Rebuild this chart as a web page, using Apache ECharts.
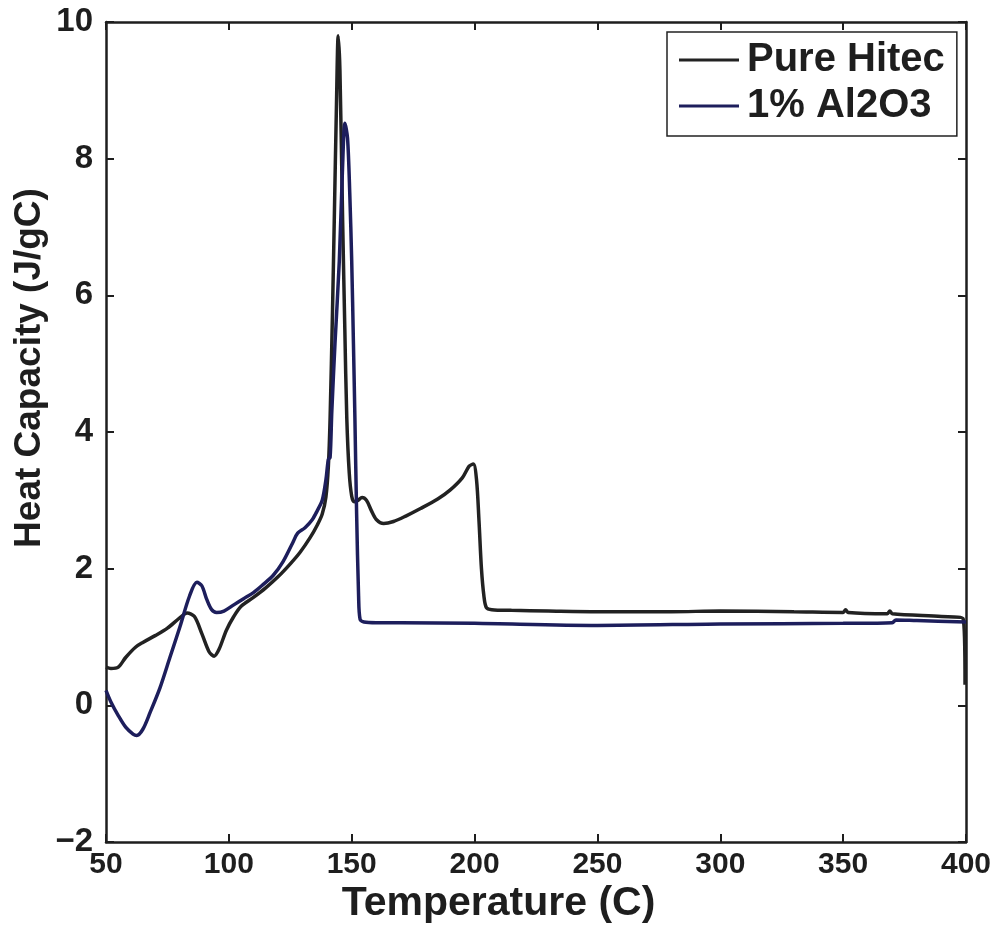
<!DOCTYPE html>
<html>
<head>
<meta charset="utf-8">
<script src="https://cdn.jsdelivr.net/npm/echarts@6/dist/echarts.min.js"></script>
<style>
html,body{margin:0;padding:0;background:#fff;}
#chart{width:997px;height:925px;}
</style>
</head>
<body>
<div id="chart"></div>
<script>
// Series names
var seriesNames = ['Pure Hitec', '1% Al2O3'];

// Pure Hitec: temperature (C) and heat capacity (J/gC)
var hitecTemp = [50, 52, 55, 58, 62, 65, 70, 75, 80, 83, 86, 89, 92, 94, 96, 99, 102, 105, 110, 115, 120, 125, 129, 133, 136, 138, 139.5, 140.5, 141.2, 142.2, 142.9, 143.8, 144.5, 145.2, 146.3, 147.2, 148.0, 149.0, 150.0, 151.0, 152.5, 154.2, 156, 158, 160, 163, 167, 172, 178, 185, 190, 195, 197.8, 199.5, 200.8, 201.8, 202.8, 203.8, 204.8, 207, 215, 230, 250, 280, 300, 330, 350, 351, 352, 368, 369, 370, 390, 398.8, 399.6];
var hitecCp   = [0.56, 0.54, 0.56, 0.7, 0.85, 0.92, 1.02, 1.13, 1.28, 1.35, 1.3, 1.05, 0.78, 0.72, 0.82, 1.1, 1.3, 1.45, 1.58, 1.72, 1.88, 2.07, 2.24, 2.45, 2.64, 2.8, 3.05, 3.5, 4.2, 5.8, 7.1, 8.8, 9.8, 9.3, 7.1, 5.5, 4.2, 3.4, 3.06, 2.98, 3.0, 3.04, 3.0, 2.85, 2.72, 2.66, 2.69, 2.77, 2.88, 3.02, 3.15, 3.33, 3.5, 3.53, 3.3, 2.7, 2.0, 1.6, 1.43, 1.4, 1.39, 1.38, 1.37, 1.37, 1.38, 1.37, 1.36, 1.4, 1.36, 1.34, 1.38, 1.34, 1.3, 1.27, 0.3];

// 1% Al2O3: temperature (C) and heat capacity (J/gC)
var aluminaTemp = [50, 52, 55, 58, 61, 62.5, 65, 68, 72, 76, 80, 84, 87, 89, 91, 93, 95, 98, 102, 106, 110, 114, 118, 122, 126, 128, 131, 134, 136, 138, 139.5, 140.5, 141.2, 141.9, 143.2, 144.95, 146.2, 147.25, 148.3, 149.2, 150.0, 150.7, 151.3, 152.0, 152.8, 153.4, 155, 160, 170, 200, 250, 300, 350, 370, 371.5, 380, 400];
var aluminaCp   = [0.22, 0.05, -0.15, -0.32, -0.42, -0.44, -0.35, -0.1, 0.26, 0.7, 1.14, 1.6, 1.8, 1.75, 1.55, 1.4, 1.36, 1.38, 1.47, 1.56, 1.65, 1.77, 1.9, 2.1, 2.38, 2.52, 2.6, 2.72, 2.85, 3.0, 3.3, 3.6, 3.63, 4.3, 5.3, 6.5, 7.8, 8.52, 8.3, 7.5, 6.5, 5.3, 4.2, 2.8, 1.6, 1.26, 1.22, 1.21, 1.21, 1.2, 1.17, 1.19, 1.2, 1.21, 1.25, 1.24, 1.22];

// Axis ticks
var xTicks = [50, 100, 150, 200, 250, 300, 350, 400];
var yTicks = [-2, 0, 2, 4, 6, 8, 10];

function pairs(xs, ys) {
  var out = [];
  for (var i = 0; i < xs.length; i++) out.push([xs[i], ys[i]]);
  return out;
}

var FONT = '"Liberation Sans", Arial, Helvetica, sans-serif';
var AXC = '#1e1e1e';

var chart = echarts.init(document.getElementById('chart'), null, {renderer: 'canvas'});

var frameX = {
  type: 'value',
  min: xTicks[0], max: xTicks[xTicks.length - 1], interval: 50,
  axisLine: {show: true, onZero: false, lineStyle: {color: AXC, width: 2.5}},
  axisTick: {show: true, inside: true, length: 8, lineStyle: {color: AXC, width: 2}},
  splitLine: {show: false}
};
var frameY = {
  type: 'value',
  min: yTicks[0], max: yTicks[yTicks.length - 1], interval: 2,
  axisLine: {show: true, onZero: false, lineStyle: {color: AXC, width: 2.5}},
  axisTick: {show: true, inside: true, length: 8, lineStyle: {color: AXC, width: 2}},
  splitLine: {show: false}
};

chart.setOption({
  animation: false,
  backgroundColor: '#ffffff',
  grid: {left: 106, right: 31, top: 22, bottom: 83, containLabel: false},
  xAxis: [
    Object.assign({}, frameX, {
      position: 'bottom',
      axisLabel: {show: true, margin: 8, color: '#1e1e1e', fontSize: 30, fontWeight: 'bold', fontFamily: FONT}
    }),
    Object.assign({}, frameX, {position: 'top', axisLabel: {show: false}})
  ],
  yAxis: [
    Object.assign({}, frameY, {
      position: 'left',
      axisLabel: {
        show: true, margin: 13, color: '#1e1e1e', fontSize: 33, fontWeight: 'bold', fontFamily: FONT,
        formatter: function (v) { return v < 0 ? '\u2212' + Math.abs(v) : String(v); }
      }
    }),
    Object.assign({}, frameY, {position: 'right', axisLabel: {show: false}})
  ],
  legend: {
    orient: 'vertical',
    left: 667, top: 32,
    data: seriesNames,
    icon: 'rect',
    itemWidth: 60, itemHeight: 3,
    itemGap: 2,
    padding: [6, 12, 8, 12],
    backgroundColor: '#ffffff',
    borderColor: '#222',
    borderWidth: 1.5,
    textStyle: {color: '#1e1e1e', fontSize: 40, fontWeight: 'bold', fontFamily: FONT, lineHeight: 44, padding: [0, 0, 0, 3]}
  },
  graphic: [
    {
      type: 'text',
      left: 'center', bottom: 1,
      style: {text: 'Temperature (C)', fill: '#1e1e1e', font: 'bold 41px ' + FONT}
    },
    {
      type: 'text',
      x: 11, y: 368,
      rotation: Math.PI / 2,
      style: {text: 'Heat Capacity (J/gC)', fill: '#1e1e1e', font: 'bold 37px ' + FONT, align: 'center', verticalAlign: 'top'}
    }
  ],
  series: [
    {
      name: seriesNames[0], type: 'line', xAxisIndex: 0, yAxisIndex: 0,
      data: pairs(hitecTemp, hitecCp),
      showSymbol: false, smooth: 0.3,
      lineStyle: {color: '#222222', width: 3.5},
      itemStyle: {color: '#222222'}
    },
    {
      name: seriesNames[1], type: 'line', xAxisIndex: 0, yAxisIndex: 0,
      data: pairs(aluminaTemp, aluminaCp),
      showSymbol: false, smooth: 0.3,
      lineStyle: {color: '#1d1e5c', width: 3.5},
      itemStyle: {color: '#1d1e5c'}
    }
  ]
});
</script>
</body>
</html>
